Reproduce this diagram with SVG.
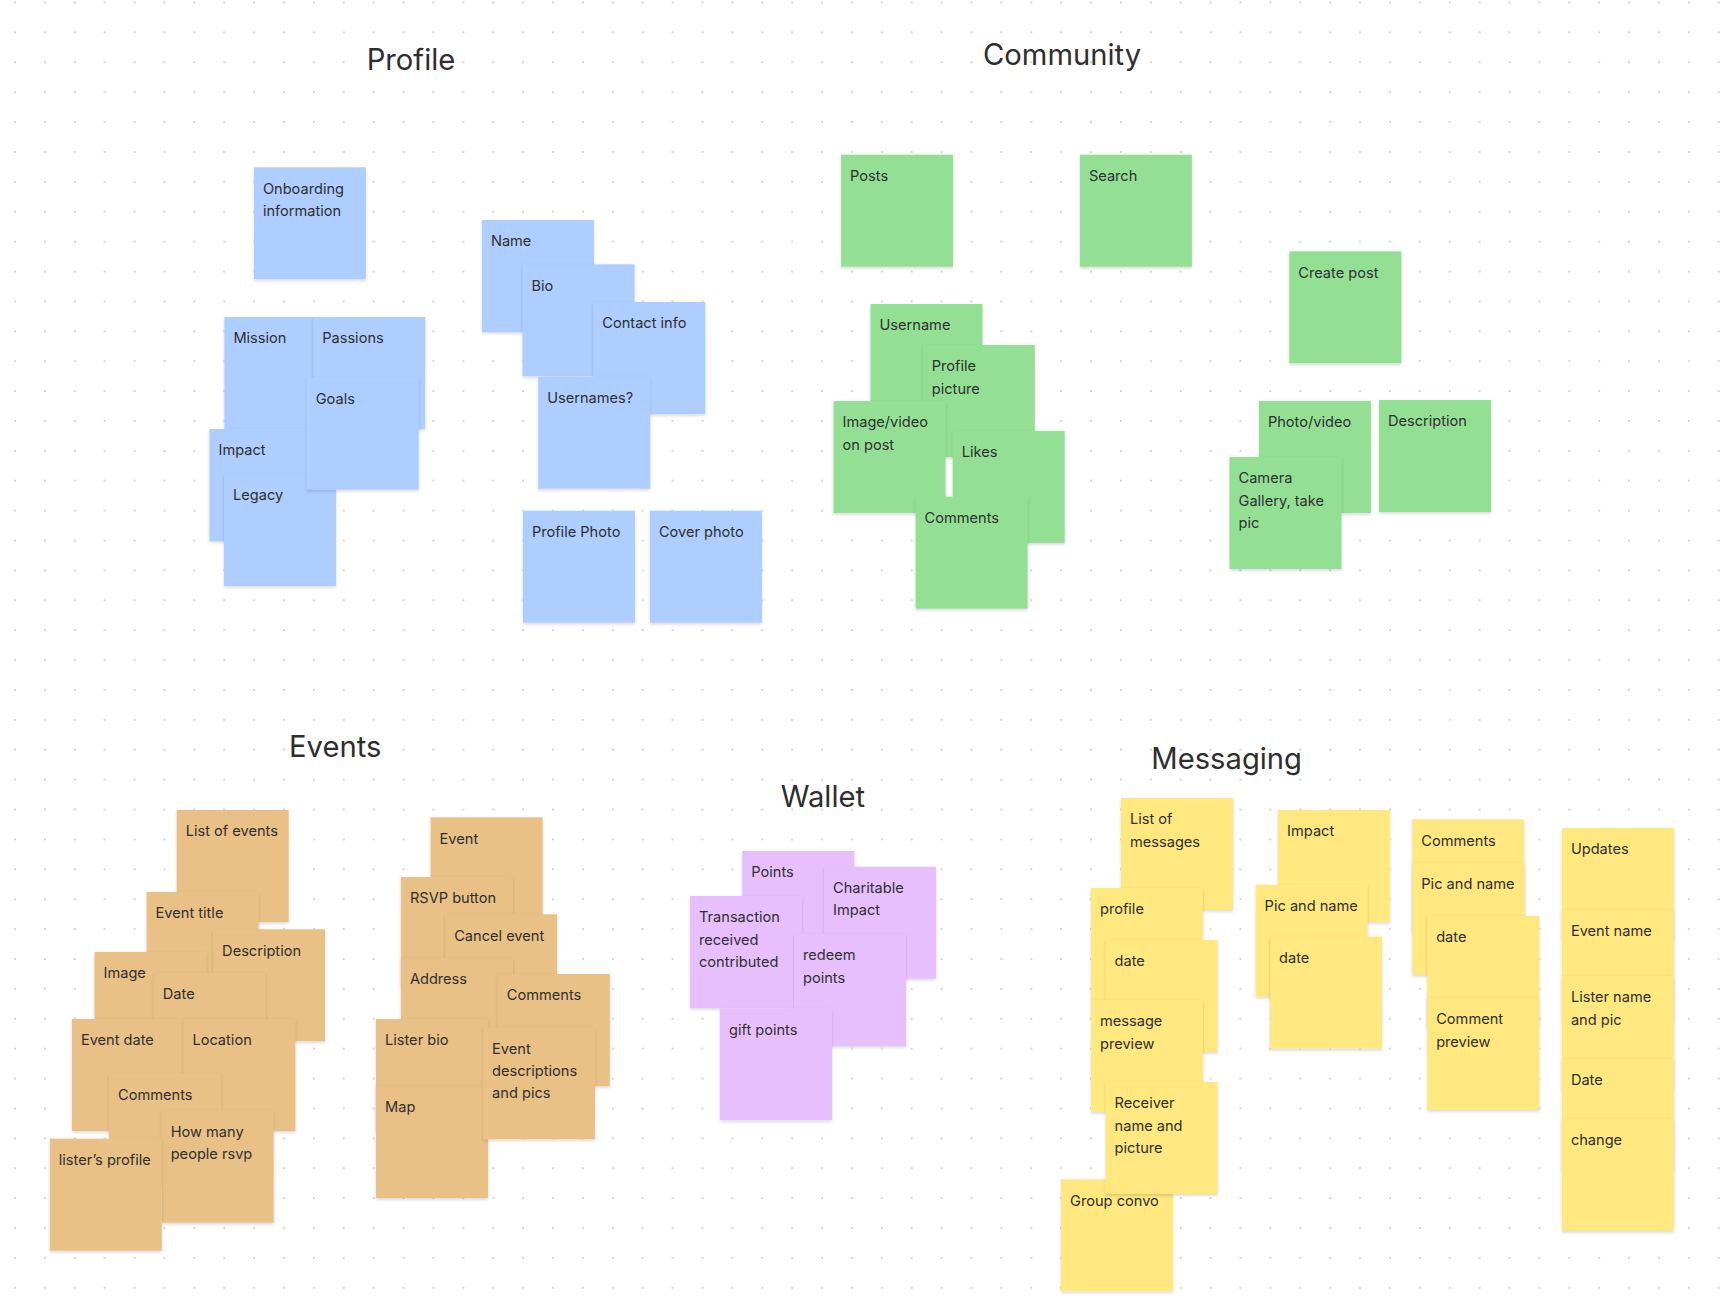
<svg xmlns="http://www.w3.org/2000/svg" width="1734" height="1314" viewBox="0 0 1734 1314">
<style>
.n{filter:url(#sh)}
.b{fill:#AECEFF}.g{fill:#93E095}.o{fill:#E9C186}.p{fill:#E8BFFD}.y{fill:#FFE880}
.t{font-family:Inter,"Noto Sans",sans-serif;font-size:14.6px;fill:#2f2f2f}
.h{font-family:Inter,"Noto Sans",sans-serif;font-size:29.2px;fill:#2e2e2e}
</style>
<defs>
<filter id="sh" x="-10%" y="-10%" width="120%" height="125%">
<feDropShadow dx="0" dy="1.5" stdDeviation="1.5" flood-color="#000" flood-opacity="0.16"/>
</filter>
<pattern id="dots" patternUnits="userSpaceOnUse" x="0.055" y="-12.445" width="29.89" height="29.89">
<circle cx="14.945" cy="14.945" r="1.1" fill="#cdcdcd"/>
</pattern>
</defs>
<rect width="1734" height="1314" fill="#ffffff"/>
<rect width="1734" height="1314" fill="url(#dots)"/>

<g id="titles">
<text class="h" x="366.7" y="70">Profile</text>
<text class="h" x="983" y="65">Community</text>
<text class="h" x="289" y="757.3">Events</text>
<text class="h" x="780.7" y="806.7">Wallet</text>
<text class="h" x="1151.3" y="769.3">Messaging</text>
</g>

<g id="connectors"></g>

<!-- Profile -->
<g id="onboarding"><rect class="n b" x="253.9" y="167.3" width="112" height="112"/><text class="t" x="262.9" y="193.5">Onboarding<tspan x="262.9" dy="22.4">information</tspan></text></g>
<g id="mission"><rect class="n b" x="224.4" y="317" width="112" height="112"/><text class="t" x="233.4" y="343.2">Mission</text></g>
<g id="passions"><rect class="n b" x="313.2" y="317" width="112" height="112"/><text class="t" x="322.2" y="343.2">Passions</text></g>
<g id="impact"><rect class="n b" x="209.5" y="429" width="112" height="112"/><text class="t" x="218.5" y="455.2">Impact</text></g>
<g id="legacy"><rect class="n b" x="224" y="474" width="112" height="112"/><text class="t" x="233" y="500.2">Legacy</text></g>
<g id="goals"><rect class="n b" x="306.7" y="377.7" width="112" height="112"/><text class="t" x="315.7" y="403.9">Goals</text></g>
<g id="name"><rect class="n b" x="481.9" y="220" width="112" height="112"/><text class="t" x="490.9" y="246.2">Name</text></g>
<g id="bio"><rect class="n b" x="522.5" y="264.3" width="112" height="112"/><text class="t" x="531.5" y="290.5">Bio</text></g>
<g id="contact-info"><rect class="n b" x="593.3" y="302" width="112" height="112"/><text class="t" x="602.3" y="328.2">Contact info</text></g>
<g id="usernames"><rect class="n b" x="538.2" y="376.7" width="112" height="112"/><text class="t" x="547.2" y="402.9">Usernames?</text></g>
<g id="profile-photo"><rect class="n b" x="522.9" y="510.7" width="112" height="112"/><text class="t" x="531.9" y="536.9">Profile Photo</text></g>
<g id="cover-photo"><rect class="n b" x="649.9" y="510.7" width="112" height="112"/><text class="t" x="658.9" y="536.9">Cover photo</text></g>

<!-- Community -->
<g id="posts"><rect class="n g" x="841.1" y="154.7" width="112" height="112"/><text class="t" x="850.1" y="180.9">Posts</text></g>
<g id="search"><rect class="n g" x="1079.9" y="154.7" width="112" height="112"/><text class="t" x="1088.9" y="180.9">Search</text></g>
<g id="create-post"><rect class="n g" x="1289.3" y="251.3" width="112" height="112"/><text class="t" x="1298.3" y="277.5">Create post</text></g>
<g id="username"><rect class="n g" x="870.5" y="304" width="112" height="112"/><text class="t" x="879.5" y="330.2">Username</text></g>
<g id="profile-picture"><rect class="n g" x="922.8" y="345" width="112" height="112"/><text class="t" x="931.8" y="371.2">Profile<tspan x="931.8" dy="22.4">picture</tspan></text></g>
<g id="image-video"><rect class="n g" x="833.5" y="401" width="112" height="112"/><text class="t" x="842.5" y="427.2">Image/video<tspan x="842.5" dy="22.4">on post</tspan></text></g>
<g id="likes"><rect class="n g" x="952.7" y="431" width="112" height="112"/><text class="t" x="961.7" y="457.2">Likes</text></g>
<g id="comments-c"><rect class="n g" x="915.6" y="496.7" width="112" height="112"/><text class="t" x="924.6" y="522.9">Comments</text></g>
<g id="photo-video"><rect class="n g" x="1258.9" y="401" width="112" height="112"/><text class="t" x="1267.9" y="427.2">Photo/video</text></g>
<g id="description-c"><rect class="n g" x="1379" y="400" width="112" height="112"/><text class="t" x="1388" y="426.2">Description</text></g>
<g id="camera"><rect class="n g" x="1229.5" y="457" width="112" height="112"/><text class="t" x="1238.5" y="483.2">Camera<tspan x="1238.5" dy="22.4">Gallery, take</tspan><tspan x="1238.5" dy="22.4">pic</tspan></text></g>

<!-- Events -->
<g id="list-of-events"><rect class="n o" x="176.7" y="810" width="112" height="112"/><text class="t" x="185.7" y="836.2">List of events</text></g>
<g id="event-title"><rect class="n o" x="146.6" y="892" width="112" height="112"/><text class="t" x="155.6" y="918.2">Event title</text></g>
<g id="image-e"><rect class="n o" x="94.5" y="952" width="112" height="112"/><text class="t" x="103.5" y="978.2">Image</text></g>
<g id="description-e"><rect class="n o" x="213.1" y="929.3" width="112" height="112"/><text class="t" x="222.1" y="955.5">Description</text></g>
<g id="date-e"><rect class="n o" x="153.8" y="973" width="112" height="112"/><text class="t" x="162.8" y="999.2">Date</text></g>
<g id="event-date"><rect class="n o" x="71.9" y="1019" width="112" height="112"/><text class="t" x="80.9" y="1045.2">Event date</text></g>
<g id="location"><rect class="n o" x="183.4" y="1019" width="112" height="112"/><text class="t" x="192.4" y="1045.2">Location</text></g>
<g id="comments-e1"><rect class="n o" x="109.1" y="1073.3" width="112" height="112"/><text class="t" x="118.1" y="1099.5">Comments</text></g>
<g id="how-many"><rect class="n o" x="161.7" y="1110.7" width="112" height="112"/><text class="t" x="170.7" y="1136.9">How many<tspan x="170.7" dy="22.4">people rsvp</tspan></text></g>
<g id="listers-profile"><rect class="n o" x="49.8" y="1138.7" width="112" height="112"/><text class="t" x="58.8" y="1164.9">lister’s profile</text></g>
<g id="event"><rect class="n o" x="430.6" y="817.3" width="112" height="112"/><text class="t" x="439.6" y="843.5">Event</text></g>
<g id="rsvp"><rect class="n o" x="400.9" y="877" width="112" height="112"/><text class="t" x="409.9" y="903.2">RSVP button</text></g>
<g id="cancel-event"><rect class="n o" x="445.2" y="914.3" width="112" height="112"/><text class="t" x="454.2" y="940.5">Cancel event</text></g>
<g id="address"><rect class="n o" x="400.9" y="958" width="112" height="112"/><text class="t" x="409.9" y="984.2">Address</text></g>
<g id="comments-e2"><rect class="n o" x="497.8" y="974" width="112" height="112"/><text class="t" x="506.8" y="1000.2">Comments</text></g>
<g id="lister-bio"><rect class="n o" x="376" y="1019" width="112" height="112"/><text class="t" x="385" y="1045.2">Lister bio</text></g>
<g id="map"><rect class="n o" x="376" y="1086" width="112" height="112"/><text class="t" x="385" y="1112.2">Map</text></g>
<g id="event-desc"><rect class="n o" x="483.1" y="1027.3" width="112" height="112"/><text class="t" x="492.1" y="1053.5">Event<tspan x="492.1" dy="22.4">descriptions</tspan><tspan x="492.1" dy="22.4">and pics</tspan></text></g>

<!-- Wallet -->
<g id="points"><rect class="n p" x="742.3" y="851" width="112" height="112"/><text class="t" x="751.3" y="877.2">Points</text></g>
<g id="charitable"><rect class="n p" x="824" y="866.7" width="112" height="112"/><text class="t" x="833" y="892.9">Charitable<tspan x="833" dy="22.4">Impact</tspan></text></g>
<g id="transaction"><rect class="n p" x="690" y="896" width="112" height="112"/><text class="t" x="699" y="922.2">Transaction<tspan x="699" dy="22.4">received</tspan><tspan x="699" dy="22.4">contributed</tspan></text></g>
<g id="redeem"><rect class="n p" x="794" y="934" width="112" height="112"/><text class="t" x="803" y="960.2">redeem<tspan x="803" dy="22.4">points</tspan></text></g>
<g id="gift"><rect class="n p" x="720" y="1008.3" width="112" height="112"/><text class="t" x="729" y="1034.5">gift points</text></g>

<!-- Messaging -->
<g id="list-of-messages"><rect class="n y" x="1121" y="798" width="112" height="112"/><text class="t" x="1130" y="824.2">List of<tspan x="1130" dy="22.4">messages</tspan></text></g>
<g id="profile-m"><rect class="n y" x="1091" y="888" width="112" height="112"/><text class="t" x="1100" y="914.2">profile</text></g>
<g id="date-m1"><rect class="n y" x="1105.6" y="940" width="112" height="112"/><text class="t" x="1114.6" y="966.2">date</text></g>
<g id="message-preview"><rect class="n y" x="1091" y="1000" width="112" height="112"/><text class="t" x="1100" y="1026.2">message<tspan x="1100" dy="22.4">preview</tspan></text></g>
<g id="group-convo"><rect class="n y" x="1061.1" y="1179.3" width="112" height="112"/><text class="t" x="1070.1" y="1205.5">Group convo</text></g>
<g id="receiver"><rect class="n y" x="1105.6" y="1082" width="112" height="112"/><text class="t" x="1114.6" y="1108.2">Receiver<tspan x="1114.6" dy="22.4">name and</tspan><tspan x="1114.6" dy="22.4">picture</tspan></text></g>
<g id="impact-m"><rect class="n y" x="1278.1" y="810" width="112" height="112"/><text class="t" x="1287.1" y="836.2">Impact</text></g>
<g id="pic-name-2"><rect class="n y" x="1255.6" y="884.7" width="112" height="112"/><text class="t" x="1264.6" y="910.9">Pic and name</text></g>
<g id="date-m2"><rect class="n y" x="1270.1" y="936.7" width="112" height="112"/><text class="t" x="1279.1" y="962.9">date</text></g>
<g id="comments-m"><rect class="n y" x="1412.3" y="819.3" width="112" height="112"/><text class="t" x="1421.3" y="845.5">Comments</text></g>
<g id="pic-name-3"><rect class="n y" x="1412.3" y="863" width="112" height="112"/><text class="t" x="1421.3" y="889.2">Pic and name</text></g>
<g id="date-m3"><rect class="n y" x="1427.2" y="916" width="112" height="112"/><text class="t" x="1436.2" y="942.2">date</text></g>
<g id="comment-preview"><rect class="n y" x="1427.2" y="998" width="112" height="112"/><text class="t" x="1436.2" y="1024.2">Comment<tspan x="1436.2" dy="22.4">preview</tspan></text></g>
<g id="updates"><rect class="n y" x="1561.9" y="828" width="112" height="112"/><text class="t" x="1570.9" y="854.2">Updates</text></g>
<g id="event-name"><rect class="n y" x="1561.9" y="910" width="112" height="112"/><text class="t" x="1570.9" y="936.2">Event name</text></g>
<g id="lister-name"><rect class="n y" x="1561.9" y="976" width="112" height="112"/><text class="t" x="1570.9" y="1002.2">Lister name<tspan x="1570.9" dy="22.4">and pic</tspan></text></g>
<g id="date-m4"><rect class="n y" x="1561.9" y="1059" width="112" height="112"/><text class="t" x="1570.9" y="1085.2">Date</text></g>
<g id="change"><rect class="n y" x="1561.9" y="1119" width="112" height="112"/><text class="t" x="1570.9" y="1145.2">change</text></g>
</svg>
